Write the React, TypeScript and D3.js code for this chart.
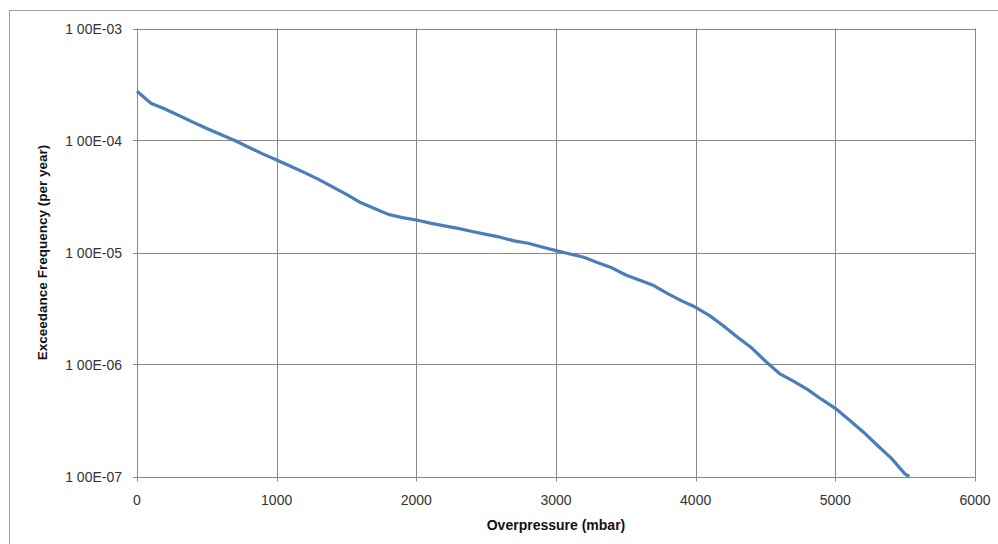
import React, { useRef, useEffect } from 'react';
import * as d3 from 'd3';

// overpressure in mbar
const overpressure = [
  0, 100, 200, 300, 400, 500, 600, 700, 800, 900, 1000, 1100, 1200, 1300, 1400, 1500,
  1600, 1700, 1800, 1900, 2000, 2100, 2200, 2300, 2400, 2500, 2600, 2700, 2800, 2900,
  3000, 3100, 3200, 3300, 3400, 3500, 3600, 3700, 3800, 3900, 4000, 4100, 4200, 4300,
  4400, 4500, 4600, 4700, 4800, 4900, 5000, 5100, 5200, 5300, 5400, 5500, 5530,
];

// exceedance frequency per year
const frequency = [
  2.75e-4, 2.15e-4, 1.91e-4, 1.67e-4, 1.46e-4, 1.28e-4, 1.13e-4, 1.0e-4, 8.7e-5, 7.6e-5,
  6.7e-5, 5.9e-5, 5.17e-5, 4.5e-5, 3.85e-5, 3.3e-5, 2.79e-5, 2.47e-5, 2.19e-5, 2.05e-5,
  1.95e-5, 1.83e-5, 1.73e-5, 1.64e-5, 1.54e-5, 1.45e-5, 1.37e-5, 1.27e-5, 1.21e-5, 1.12e-5,
  1.04e-5, 9.7e-6, 9.06e-6, 8.1e-6, 7.3e-6, 6.3e-6, 5.65e-6, 5.07e-6, 4.3e-6, 3.7e-6,
  3.24e-6, 2.73e-6, 2.21e-6, 1.75e-6, 1.41e-6, 1.07e-6, 8.3e-7, 7.1e-7, 6.0e-7, 4.9e-7,
  4.06e-7, 3.2e-7, 2.5e-7, 1.9e-7, 1.46e-7, 1.05e-7, 1.0e-7,
];

const xTicks = [0, 1000, 2000, 3000, 4000, 5000, 6000];
const yTicks = [1e-3, 1e-4, 1e-5, 1e-6, 1e-7];
const yTickLabels = ['1 00E-03', '1 00E-04', '1 00E-05', '1 00E-06', '1 00E-07'];

const App = () => {
  const ref = useRef<SVGSVGElement>(null);

  useEffect(() => {
    const width = 998;
    const height = 544;
    const left = 137;
    const right = 975;
    const top = 28.5;
    const bottom = 476.5;
    const font = 'Liberation Sans, Arial, sans-serif';
    const grid = '#888888';

    const svg = d3.select(ref.current);
    svg.selectAll('*').remove();

    const x = d3.scaleLinear().domain([0, 6000]).range([left, right]);
    const y = d3.scaleLog().domain([1e-7, 1e-3]).range([bottom, top]);

    // outer chart border
    svg.append('rect')
      .attr('x', 9.5).attr('y', 10.5)
      .attr('width', width + 10).attr('height', height + 10)
      .attr('fill', 'none').attr('stroke', '#a0a0a0').attr('stroke-width', 1);

    // horizontal gridlines + ticks
    svg.append('g')
      .selectAll('line')
      .data(yTicks)
      .join('line')
      .attr('x1', left - 4).attr('x2', right)
      .attr('y1', (d) => Math.round(y(d)) + 0.5)
      .attr('y2', (d) => Math.round(y(d)) + 0.5)
      .attr('stroke', grid).attr('stroke-width', 1);

    // vertical gridlines + ticks
    svg.append('g')
      .selectAll('line')
      .data(xTicks)
      .join('line')
      .attr('x1', (d) => Math.round(x(d)) + 0.5)
      .attr('x2', (d) => Math.round(x(d)) + 0.5)
      .attr('y1', top).attr('y2', bottom + 5)
      .attr('stroke', grid).attr('stroke-width', 1);

    // y tick labels
    svg.append('g')
      .selectAll('text')
      .data(yTicks)
      .join('text')
      .attr('x', left - 15)
      .attr('y', (d) => y(d) + 5)
      .attr('text-anchor', 'end')
      .attr('font-family', font).attr('font-size', 14)
      .attr('fill', '#333')
      .text((d, i) => yTickLabels[i]);

    // x tick labels
    svg.append('g')
      .selectAll('text')
      .data(xTicks)
      .join('text')
      .attr('x', (d) => x(d))
      .attr('y', bottom + 28)
      .attr('text-anchor', 'middle')
      .attr('font-family', font).attr('font-size', 14)
      .attr('fill', '#333')
      .text((d) => String(d));

    // the curve
    const pts = overpressure.map((p, i) => [p, frequency[i]] as [number, number]);
    const line = d3.line<[number, number]>()
      .x((d) => x(d[0]))
      .y((d) => y(d[1]));

    svg.append('path')
      .attr('d', line(pts))
      .attr('fill', 'none')
      .attr('stroke', '#4a7ebb')
      .attr('stroke-width', 3.2)
      .attr('stroke-linejoin', 'round');

    // axis titles
    svg.append('text')
      .attr('x', 556).attr('y', 530)
      .attr('text-anchor', 'middle')
      .attr('font-family', font).attr('font-size', 14).attr('font-weight', 'bold')
      .attr('fill', '#111')
      .text('Overpressure (mbar)');

    svg.append('text')
      .attr('transform', `translate(47,${(top + bottom) / 2}) rotate(-90)`)
      .attr('text-anchor', 'middle')
      .attr('font-family', font).attr('font-size', 13.5).attr('font-weight', 'bold')
      .attr('fill', '#111')
      .text('Exceedance Frequency (per year)');
  }, []);

  return (
    <svg
      ref={ref}
      width={998}
      height={544}
      style={{ position: 'absolute', left: 0, top: 0, background: '#fff' }}
    />
  );
};

export default App;
